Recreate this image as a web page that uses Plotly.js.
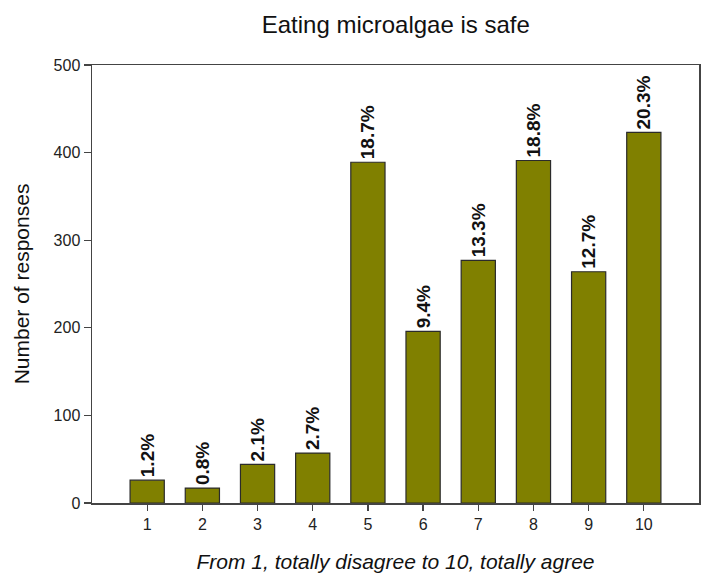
<!DOCTYPE html>
<html>
<head>
<meta charset="utf-8">
<script src="https://cdn.plot.ly/plotly-3.0.1.min.js"></script>
<style>html,body{margin:0;padding:0;background:#fff;}#chart{width:703px;height:576px;}</style>
</head>
<body>
<div id="chart"></div>
<script>
const categories = [1, 2, 3, 4, 5, 6, 7, 8, 9, 10];
const responses = [26, 17, 44, 57, 389, 196, 277, 391, 264, 423];
const percentLabels = ["1.2%", "0.8%", "2.1%", "2.7%", "18.7%", "9.4%", "13.3%", "18.8%", "12.7%", "20.3%"];

const trace = {
  type: 'bar',
  x: categories,
  y: responses,
  width: 0.62,
  marker: {color: '#808000', line: {color: '#2b2b2b', width: 1.2}},
  text: percentLabels,
  textposition: 'outside',
  textangle: -90,
  constraintext: 'none',
  cliponaxis: false,
  textfont: {family: 'Liberation Sans, Arial, sans-serif', size: 19, color: '#111', weight: 'bold'},
  hoverinfo: 'skip'
};

const axisFont = {family: 'Liberation Sans, Arial, sans-serif', size: 16, color: '#222'};
const layout = {
  width: 703, height: 576,
  margin: {l: 92, r: 4, t: 65, b: 73},
  paper_bgcolor: '#fff', plot_bgcolor: '#fff',
  showlegend: false,
  uniformtext: {minsize: 19, mode: 'show'},
  title: {text: 'Eating microalgae is safe', x: 0.563, xanchor: 'center', y: 0.958, yanchor: 'middle',
          font: {family: 'Liberation Sans, Arial, sans-serif', size: 24, color: '#111'}},
  xaxis: {
    range: [0, 11], tickmode: 'array', tickvals: categories, ticktext: categories.map(String),
    showline: true, mirror: true, linecolor: '#444', linewidth: 1.5,
    ticks: 'outside', ticklen: 6, tickcolor: '#444', tickwidth: 1.2,
    showgrid: false, zeroline: false, tickfont: axisFont,
    title: {text: 'From 1, totally disagree to 10, totally agree', standoff: 22,
            font: {family: 'Liberation Sans, Arial, sans-serif', size: 21, color: '#111', style: 'italic'}}
  },
  yaxis: {
    range: [0, 500], tickvals: [0, 100, 200, 300, 400, 500],
    showline: true, mirror: true, linecolor: '#444', linewidth: 1.5,
    ticks: 'outside', ticklen: 7, tickcolor: '#444', tickwidth: 1.2,
    showgrid: false, zeroline: false, tickfont: axisFont,
    title: {text: 'Number of responses', standoff: 18,
            font: {family: 'Liberation Sans, Arial, sans-serif', size: 21, color: '#111'}}
  },
  bargap: 0.38
};

Plotly.newPlot('chart', [trace], layout, {displayModeBar: false, staticPlot: true});
</script>
</body>
</html>
